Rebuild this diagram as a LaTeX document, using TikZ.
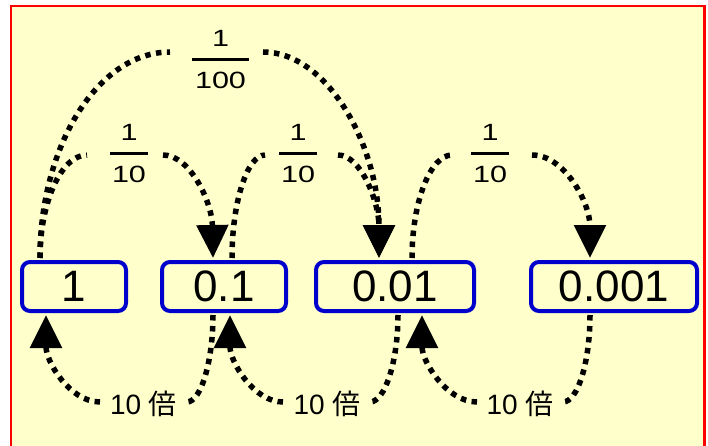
\documentclass[tikz,border=0pt]{standalone}
\usepackage{fontspec}
\setmainfont{Liberation Sans}
\newfontfamily\cjk{Noto Sans CJK JP}
\usepackage{graphicx}
\usetikzlibrary{arrows.meta}
\definecolor{bgyellow}{HTML}{FFFFCC}
\definecolor{boxblue}{HTML}{0000CC}
\newcommand{\fracstack}[3]{\vbox{\hsize=#1\relax\offinterlineskip\hbox to\hsize{\hss#2\hss}\vskip11pt\hrule height2.8pt\vskip11pt\hbox to\hsize{\hss#3\hss}}}
\newcommand{\wdig}[1]{\scalebox{1.3}[1]{#1}}
\begin{document}
\begin{tikzpicture}[x=1pt,y=-1pt,
  numbox/.style={draw=boxblue, line width=4pt, rounded corners=8pt, minimum height=49pt, inner sep=0pt, font=\fontsize{44}{48}\selectfont},
  fraclab/.style={inner sep=0pt, font=\fontsize{23.5}{27}\selectfont},
  timeslab/.style={inner sep=0pt, font=\fontsize{28}{32}\selectfont},
  dotline/.style={line width=5.5pt, dash pattern=on 5.5pt off 5.5pt},
  dotarrow/.style={dotline, -{Triangle[length=33pt,width=31pt]}}]
\useasboundingbox (0,0) rectangle (708,446);
\fill[white] (0,0) rectangle (708,446);
\fill[bgyellow] (11,6) rectangle (704.5,446);
\draw[red, line width=2.5pt] (11,450) -- (11,6) -- (704.5,6) -- (704.5,450);
% boxes
\node[numbox, minimum width=104pt] (b1) at (74,286.5) {1};
\node[numbox, minimum width=124pt] (b2) at (224,286.5) {0.1};
\node[numbox, minimum width=158pt] (b3) at (395,286.5) {0.01};
\node[numbox, minimum width=166pt] (b4) at (614,286.5) {0.001};
% labels
\node[fraclab] (f100) at (220.5,59.5) {\fracstack{57pt}{\wdig{1}}{\wdig{100}}};
\node[fraclab] (f1) at (129,153.5) {\fracstack{38pt}{\wdig{1}}{\wdig{10}}};
\node[fraclab] (f2) at (298,153.5) {\fracstack{38pt}{\wdig{1}}{\wdig{10}}};
\node[fraclab] (f3) at (490,153.5) {\fracstack{38pt}{\wdig{1}}{\wdig{10}}};
\node[timeslab] (t1) at (143.5,404) {10 {\cjk 倍}};
\node[timeslab] (t2) at (327,404) {10 {\cjk 倍}};
\node[timeslab] (t3) at (520,404) {10 {\cjk 倍}};
% top connectors
\draw[dotline] ([xshift=-34pt,yshift=2pt]b1.north) .. controls (40,203) and (61,155) .. ([xshift=-42pt,yshift=-1.5pt]f1.center);
\draw[dotarrow] ([xshift=34pt,yshift=-1.5pt]f1.center) .. controls (190,155) and (212,202) .. ([xshift=-11pt,yshift=2pt]b2.north);
\draw[dotline] ([xshift=-34pt,yshift=2pt]b1.north) .. controls (40,146) and (98,52) .. ([xshift=-50.5pt,yshift=7.5pt]f100.center);
\draw[dotarrow] ([xshift=42.5pt,yshift=7.5pt]f100.center) .. controls (327,52) and (379,145) .. ([xshift=-16pt,yshift=2pt]b3.north);
\draw[dotline] ([xshift=8pt,yshift=2pt]b2.north) .. controls (232,203) and (247,155) .. ([xshift=-33pt,yshift=-1.5pt]f2.center);
\draw[dotarrow] ([xshift=40pt,yshift=-1.5pt]f2.center) .. controls (361,155) and (379,202) .. ([xshift=-16pt,yshift=2pt]b3.north);
\draw[dotline] ([xshift=17pt,yshift=2pt]b3.north) .. controls (412,203) and (430,155) .. ([xshift=-38pt,yshift=-1.5pt]f3.center);
\draw[dotarrow] ([xshift=42pt,yshift=-1.5pt]f3.center) .. controls (564,155) and (590,202) .. ([xshift=-24pt,yshift=2pt]b4.north);
% bottom connectors
\draw[dotline] ([xshift=-11pt,yshift=-2pt]b2.south) .. controls (213,361) and (201,402) .. ([xshift=43.5pt,yshift=2pt]t1.center);
\draw[dotarrow] ([xshift=-43.5pt,yshift=2pt]t1.center) .. controls (70,402) and (46,362) .. ([xshift=-28pt,yshift=-2pt]b1.south);
\draw[dotline] ([xshift=3pt,yshift=-2pt]b3.south) .. controls (398,361) and (385,402) .. ([xshift=43pt,yshift=2pt]t2.center);
\draw[dotarrow] ([xshift=-44pt,yshift=2pt]t2.center) .. controls (254,402) and (230,362) .. ([xshift=6pt,yshift=-2pt]b2.south);
\draw[dotline] ([xshift=-24pt,yshift=-2pt]b4.south) .. controls (590,361) and (578,402) .. ([xshift=43pt,yshift=2pt]t3.center);
\draw[dotarrow] ([xshift=-43pt,yshift=2pt]t3.center) .. controls (447,402) and (422,362) .. ([xshift=27pt,yshift=-2pt]b3.south);
\end{tikzpicture}
\end{document}
